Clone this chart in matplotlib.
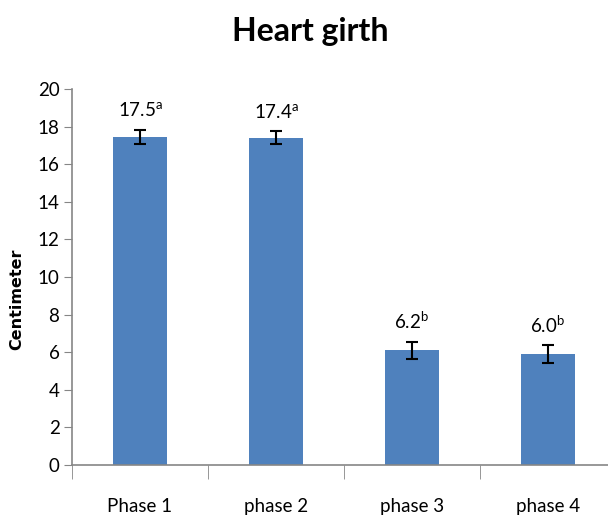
import numpy as np
import matplotlib as mpl
import matplotlib.pyplot as plt
from matplotlib.ticker import FixedLocator

phases = ['Phase 1', 'phase 2', 'phase 3', 'phase 4']
means = [17.45, 17.4, 6.1, 5.9]
errors = [0.37, 0.35, 0.46, 0.47]
labels = ['17.5', '17.4', '6.2', '6.0']
letters = ['a', 'a', 'b', 'b']
yticks = [0, 2, 4, 6, 8, 10, 12, 14, 16, 18, 20]

mpl.rcParams['font.family'] = ['Lato', 'DejaVu Sans']
mpl.rcParams['mathtext.fontset'] = 'custom'
mpl.rcParams['mathtext.rm'] = 'Lato'

fig = plt.figure(figsize=(6.08, 5.21), dpi=100)
ax = fig.add_axes([0.1184, 0.1075, 0.8947, 0.7217])

x = np.arange(len(phases))
ax.bar(x, means, width=0.4, color='#4F81BD', zorder=2)
ax.errorbar(x, means, yerr=errors, fmt='none', ecolor='black',
            elinewidth=1.5, capsize=4, capthick=1.5, zorder=3)

for i in range(len(x)):
    ax.annotate(f'{labels[i]}$^{{\\mathrm{{{letters[i]}}}}}$',
                (x[i], means[i] + errors[i]), xytext=(0, 7),
                textcoords='offset points', ha='center', va='bottom',
                fontsize=13.5)

ax.set_xlim(-0.5, 3.5)
ax.set_ylim(0, 20)
ax.set_yticks(yticks)
ax.tick_params(axis='y', labelsize=13.5, length=6, color='#868686', pad=3)

ax.set_xticks(x)
ax.set_xticklabels(phases, fontsize=13.5)
ax.xaxis.set_minor_locator(FixedLocator([-0.5, 0.5, 1.5, 2.5, 3.5]))
ax.tick_params(axis='x', which='major', length=0, pad=24)
ax.tick_params(axis='x', which='minor', length=10, color='#868686')

for side in ['top', 'right']:
    ax.spines[side].set_visible(False)
for side in ['left', 'bottom']:
    ax.spines[side].set_color('#868686')
    ax.spines[side].set_linewidth(1.2)

ax.set_ylabel('Centimeter', family='DejaVu Sans', fontweight='bold',
              fontsize=11.5)
ax.yaxis.set_label_coords(-0.087, 0.44)
fig.text(0.51, 0.94, 'Heart girth', ha='center', va='center',
         fontsize=23, fontweight='bold')

fig.savefig('out.png', dpi=100)
